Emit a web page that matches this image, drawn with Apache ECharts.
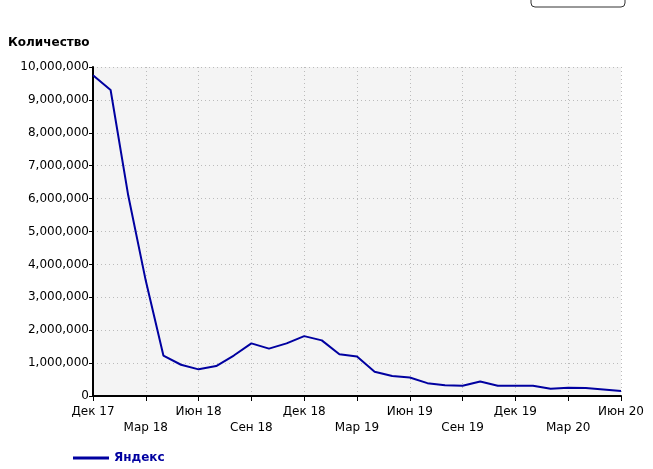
<!DOCTYPE html>
<html>
<head>
<meta charset="utf-8">
<script src="https://cdn.jsdelivr.net/npm/echarts@6/dist/echarts.min.js"></script>
<style>
  html, body { margin: 0; padding: 0; background: #fff; }
  #chart { width: 653px; height: 469px; }
</style>
</head>
<body>
<div id="chart"></div>
<script>
const months = [
  'Дек 17', 'Янв 18', 'Фев 18', 'Мар 18', 'Апр 18', 'Май 18', 'Июн 18', 'Июл 18', 'Авг 18', 'Сен 18',
  'Окт 18', 'Ноя 18', 'Дек 18', 'Янв 19', 'Фев 19', 'Мар 19', 'Апр 19', 'Май 19', 'Июн 19', 'Июл 19',
  'Авг 19', 'Сен 19', 'Окт 19', 'Ноя 19', 'Дек 19', 'Янв 20', 'Фев 20', 'Мар 20', 'Апр 20', 'Май 20', 'Июн 20'
]
const yandex = [
  9750000, 9300000, 6100000, 3500000, 1230000, 950000, 810000, 910000, 1230000, 1600000,
  1440000, 1600000, 1820000, 1690000, 1270000, 1200000, 740000, 610000, 560000, 390000,
  330000, 310000, 440000, 310000, 310000, 310000, 220000, 250000, 240000, 200000, 150000
]

const font = 'DejaVu Sans, Arial, sans-serif'
const chart = echarts.init(document.getElementById('chart'))
chart.setOption({
  animation: false,
  grid: { left: 93, right: 32, top: 67, bottom: 73, show: true, backgroundColor: '#f4f4f4', borderWidth: 0 },
  graphic: [
    { type: 'rect', shape: { x: 531, y: -8, width: 94, height: 15, r: 4 }, style: { fill: '#fff', stroke: '#333', lineWidth: 1 } },
    { type: 'text', left: 8, top: 37, style: { text: 'Количество', font: 'bold 12px ' + font, fill: '#000' } }
  ],
  legend: {
    left: 68, top: 447, itemWidth: 36, itemHeight: 3, icon: 'rect',
    textStyle: { fontFamily: font, fontSize: 12, fontWeight: 'bold', color: '#0000a0' },
    data: ['Яндекс']
  },
  xAxis: {
    type: 'category', data: months, boundaryGap: false,
    axisLine: { lineStyle: { color: '#000', width: 2 } },
    axisTick: { interval: 2, length: 5, lineStyle: { color: '#000' } },
    axisLabel: {
      interval: 2, color: '#000', fontFamily: font, fontSize: 12, margin: 8, lineHeight: 16,
      formatter: (v, i) => (i / 3) % 2 === 0 ? v : '\n' + v
    },
    splitLine: { show: true, interval: 2, lineStyle: { color: '#bbb', type: [1, 3] } }
  },
  yAxis: {
    type: 'value', min: 0, max: 10000000, interval: 1000000,
    axisLine: { show: true, lineStyle: { color: '#000', width: 2 } },
    axisTick: { show: true, length: 4, lineStyle: { color: '#000' } },
    axisLabel: { color: '#000', fontFamily: font, fontSize: 12, margin: 4, formatter: v => v.toLocaleString('en-US') },
    splitLine: { lineStyle: { color: '#bbb', type: [1, 3] } }
  },
  series: [{
    name: 'Яндекс', type: 'line', data: yandex, symbol: 'none',
    lineStyle: { color: '#0000a0', width: 2 }, itemStyle: { color: '#0000a0' }
  }]
})
</script>
</body>
</html>
